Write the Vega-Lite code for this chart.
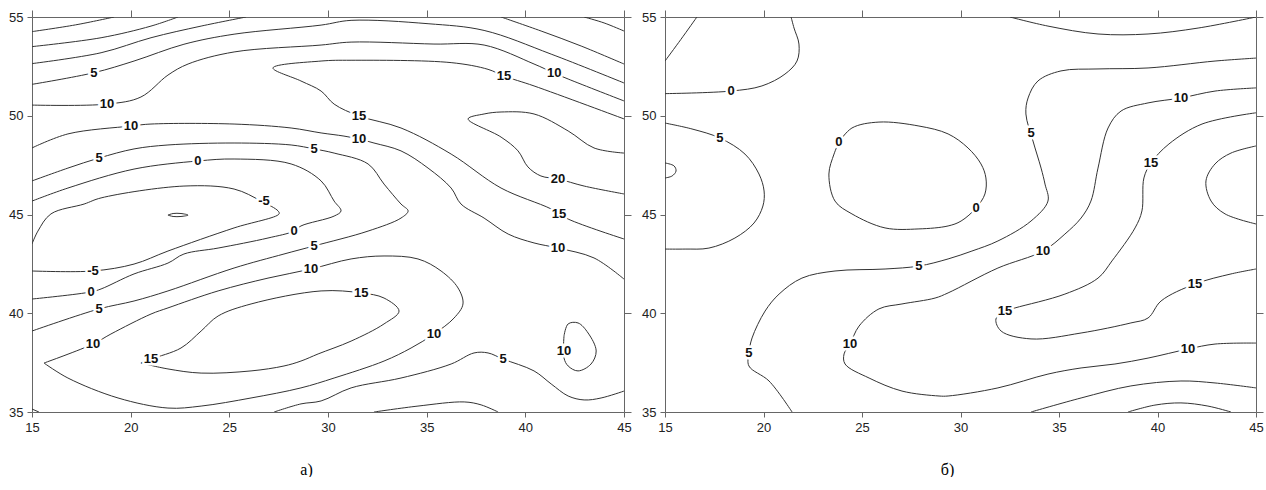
{
  "$schema": "https://vega.github.io/schema/vega-lite/v6.json",
  "padding": {"left": 8, "top": 9, "right": 0, "bottom": 0},
  "autosize": {"type": "pad"},
  "spacing": 9,
  "config": {
    "view": {"stroke": null},
    "font": "Liberation Sans",
    "axis": {"domainColor": "#666", "tickColor": "#666", "labelColor": "#222", "labelFont": "Liberation Sans", "labelFontSize": 13, "grid": false, "domainWidth": 1, "tickWidth": 1, "labelFlush": false, "labelOverlap": false}
  },
  "datasets": {
    "a": [
      {"c":"A1","o":1,"x":15,"y":54.26},{"c":"A1","o":2,"x":17.2,"y":54.6},{"c":"A1","o":3,"x":19.16,"y":55},
      {"c":"A2","o":1,"x":15,"y":53.5},{"c":"A2","o":2,"x":18.5,"y":53.95},{"c":"A2","o":3,"x":21.03,"y":54.54},{"c":"A2","o":4,"x":22.4,"y":55},
      {"c":"A3","o":1,"x":15,"y":52.64},{"c":"A3","o":2,"x":18.5,"y":53.19},{"c":"A3","o":3,"x":21.03,"y":53.95},{"c":"A3","o":4,"x":23.57,"y":54.54},{"c":"A3","o":5,"x":25.85,"y":55},
      {"c":"A4","o":1,"x":15,"y":51.59},{"c":"A4","o":2,"x":18.14,"y":52.18},{"c":"A4","o":3,"x":20.17,"y":52.77},{"c":"A4","o":4,"x":22.7,"y":53.62},{"c":"A4","o":5,"x":25.24,"y":54.13},{"c":"A4","o":6,"x":29.65,"y":54.59},{"c":"A4","o":7,"x":31.17,"y":54.83},{"c":"A4","o":8,"x":35.07,"y":54.66},{"c":"A4","o":9,"x":37.91,"y":54.32},{"c":"A4","o":10,"x":41.31,"y":53.12},{"c":"A4","o":11,"x":45,"y":51.66},
      {"c":"A5","o":1,"x":38.77,"y":55},{"c":"A5","o":2,"x":40.8,"y":54.29},{"c":"A5","o":3,"x":42.83,"y":53.53},{"c":"A5","o":4,"x":45,"y":52.62},
      {"c":"A6","o":1,"x":42.98,"y":55},{"c":"A6","o":2,"x":43.99,"y":54.7},{"c":"A6","o":3,"x":45,"y":54.29},
      {"c":"A7","o":1,"x":15,"y":50.54},{"c":"A7","o":2,"x":18.8,"y":50.59},{"c":"A7","o":3,"x":20.52,"y":50.95},{"c":"A7","o":4,"x":21.89,"y":52.06},{"c":"A7","o":5,"x":22.91,"y":52.62},{"c":"A7","o":6,"x":25.24,"y":53.23},{"c":"A7","o":7,"x":29.65,"y":53.58},{"c":"A7","o":8,"x":31.17,"y":53.73},{"c":"A7","o":9,"x":35.37,"y":53.63},{"c":"A7","o":10,"x":37.91,"y":53.58},{"c":"A7","o":11,"x":40.44,"y":52.62},{"c":"A7","o":12,"x":41.46,"y":52.16},{"c":"A7","o":13,"x":42.17,"y":51.86},{"c":"A7","o":14,"x":45,"y":50.75},
      {"c":"A8","o":1,"x":45,"y":49.84},{"c":"A8","o":2,"x":40.44,"y":51.51},{"c":"A8","o":3,"x":38.92,"y":52.01},{"c":"A8","o":4,"x":38.11,"y":52.35},{"c":"A8","o":5,"x":36.24,"y":52.69},{"c":"A8","o":6,"x":31.17,"y":52.81},{"c":"A8","o":7,"x":29.65,"y":52.77},{"c":"A8","o":8,"x":27.21,"y":52.42},{"c":"A8","o":9,"x":28.63,"y":51.76},{"c":"A8","o":10,"x":29.65,"y":51.25},{"c":"A8","o":11,"x":30.31,"y":50.59},{"c":"A8","o":12,"x":31.57,"y":49.99},{"c":"A8","o":13,"x":33.7,"y":49.38},{"c":"A8","o":14,"x":36.24,"y":48.06},{"c":"A8","o":15,"x":38.77,"y":46.34},{"c":"A8","o":16,"x":41.31,"y":45.28},{"c":"A8","o":17,"x":42.17,"y":44.77},{"c":"A8","o":18,"x":45,"y":43.76},
      {"c":"A9","o":1,"x":45,"y":48.11},{"c":"A9","o":2,"x":43.48,"y":48.37},{"c":"A9","o":3,"x":42.17,"y":49.23},{"c":"A9","o":4,"x":40.44,"y":50.09},{"c":"A9","o":5,"x":38.77,"y":50.19},{"c":"A9","o":6,"x":37.91,"y":50.09},{"c":"A9","o":7,"x":37.1,"y":49.84},{"c":"A9","o":8,"x":38.77,"y":48.92},{"c":"A9","o":9,"x":39.63,"y":48.22},{"c":"A9","o":10,"x":40.13,"y":47.41},{"c":"A9","o":11,"x":40.79,"y":46.95},{"c":"A9","o":12,"x":41.66,"y":46.8},{"c":"A9","o":13,"x":42.98,"y":46.44},{"c":"A9","o":14,"x":45,"y":46.04},
      {"c":"A10","o":1,"x":15,"y":48.37},{"c":"A10","o":2,"x":16.82,"y":49.08},{"c":"A10","o":3,"x":20.02,"y":49.48},{"c":"A10","o":4,"x":21.03,"y":49.58},{"c":"A10","o":5,"x":25.24,"y":49.58},{"c":"A10","o":6,"x":28.13,"y":49.38},{"c":"A10","o":7,"x":29.65,"y":49.13},{"c":"A10","o":8,"x":30.81,"y":48.97},{"c":"A10","o":9,"x":31.57,"y":48.82},{"c":"A10","o":10,"x":32.33,"y":48.62},{"c":"A10","o":11,"x":33.7,"y":48.22},{"c":"A10","o":12,"x":35.07,"y":47.35},{"c":"A10","o":13,"x":36.24,"y":46.34},{"c":"A10","o":14,"x":36.74,"y":45.53},{"c":"A10","o":15,"x":37.91,"y":44.82},{"c":"A10","o":16,"x":39.13,"y":44.01},{"c":"A10","o":17,"x":40.44,"y":43.56},{"c":"A10","o":18,"x":41.66,"y":43.3},{"c":"A10","o":19,"x":43.48,"y":42.8},{"c":"A10","o":20,"x":45,"y":41.73},
      {"c":"A11","o":1,"x":15,"y":46.7},{"c":"A11","o":2,"x":16.82,"y":47.35},{"c":"A11","o":3,"x":18.4,"y":47.86},{"c":"A11","o":4,"x":20.17,"y":48.32},{"c":"A11","o":5,"x":21.89,"y":48.52},{"c":"A11","o":6,"x":25.24,"y":48.62},{"c":"A11","o":7,"x":28.13,"y":48.52},{"c":"A11","o":8,"x":29.3,"y":48.32},{"c":"A11","o":9,"x":30.31,"y":48.11},{"c":"A11","o":10,"x":32.03,"y":47.56},{"c":"A11","o":11,"x":32.84,"y":46.54},{"c":"A11","o":12,"x":33.7,"y":45.53},{"c":"A11","o":13,"x":34.06,"y":45.18},{"c":"A11","o":14,"x":33.7,"y":44.82},{"c":"A11","o":15,"x":32.03,"y":44.16},{"c":"A11","o":16,"x":29.3,"y":43.41},{"c":"A11","o":17,"x":27.77,"y":43.0},{"c":"A11","o":18,"x":25.24,"y":42.29},{"c":"A11","o":19,"x":21.89,"y":41.13},{"c":"A11","o":20,"x":20.17,"y":40.62},{"c":"A11","o":21,"x":18.4,"y":40.22},{"c":"A11","o":22,"x":15,"y":39.1},
      {"c":"A12","o":1,"x":15,"y":45.68},{"c":"A12","o":2,"x":16.82,"y":46.34},{"c":"A12","o":3,"x":20.17,"y":47.3},{"c":"A12","o":4,"x":23.41,"y":47.71},{"c":"A12","o":5,"x":25.24,"y":47.81},{"c":"A12","o":6,"x":28.13,"y":47.56},{"c":"A12","o":7,"x":29.65,"y":46.7},{"c":"A12","o":8,"x":30.31,"y":45.68},{"c":"A12","o":9,"x":30.66,"y":45.18},{"c":"A12","o":10,"x":30.31,"y":44.92},{"c":"A12","o":11,"x":28.63,"y":44.42},{"c":"A12","o":12,"x":28.28,"y":44.16},{"c":"A12","o":13,"x":26.96,"y":43.81},{"c":"A12","o":14,"x":24.43,"y":43.3},{"c":"A12","o":15,"x":22.7,"y":43.0},{"c":"A12","o":16,"x":21.89,"y":42.54},{"c":"A12","o":17,"x":20.17,"y":41.99},{"c":"A12","o":18,"x":18.5,"y":41.23},{"c":"A12","o":19,"x":17.99,"y":41.08},{"c":"A12","o":20,"x":15,"y":40.72},
      {"c":"A13","o":1,"x":15,"y":43.51},{"c":"A13","o":2,"x":15.3,"y":44.16},{"c":"A13","o":3,"x":15.96,"y":45.03},{"c":"A13","o":4,"x":17.64,"y":45.53},{"c":"A13","o":5,"x":18.5,"y":45.84},{"c":"A13","o":6,"x":22.7,"y":46.44},{"c":"A13","o":7,"x":25.24,"y":46.29},{"c":"A13","o":8,"x":26.61,"y":45.68},{"c":"A13","o":9,"x":27.47,"y":45.18},{"c":"A13","o":10,"x":27.52,"y":45.03},{"c":"A13","o":11,"x":25.24,"y":44.32},{"c":"A13","o":12,"x":21.89,"y":43.15},{"c":"A13","o":13,"x":20.17,"y":42.49},{"c":"A13","o":14,"x":18.09,"y":42.14},{"c":"A13","o":15,"x":15,"y":42.14},
      {"c":"A14","o":1,"x":21.89,"y":44.97},{"c":"A14","o":2,"x":22.15,"y":45.05},{"c":"A14","o":3,"x":22.55,"y":45.05},{"c":"A14","o":4,"x":22.91,"y":44.97},{"c":"A14","o":5,"x":22.55,"y":44.9},{"c":"A14","o":6,"x":22.15,"y":44.9},{"c":"A14","o":7,"x":21.89,"y":44.97},
      {"c":"A15","o":1,"x":15.61,"y":37.48},{"c":"A15","o":2,"x":18.09,"y":38.44},{"c":"A15","o":3,"x":19.0,"y":38.95},{"c":"A15","o":4,"x":21.03,"y":39.96},{"c":"A15","o":5,"x":21.89,"y":40.27},{"c":"A15","o":6,"x":24.43,"y":41.13},{"c":"A15","o":7,"x":26.96,"y":41.78},{"c":"A15","o":8,"x":29.14,"y":42.24},{"c":"A15","o":9,"x":31.17,"y":42.75},{"c":"A15","o":10,"x":32.84,"y":42.9},{"c":"A15","o":11,"x":34.56,"y":42.75},{"c":"A15","o":12,"x":35.73,"y":42.14},{"c":"A15","o":13,"x":36.59,"y":41.28},{"c":"A15","o":14,"x":36.84,"y":40.47},{"c":"A15","o":15,"x":36.39,"y":39.76},{"c":"A15","o":16,"x":35.37,"y":38.95},{"c":"A15","o":17,"x":34.21,"y":38.24},{"c":"A15","o":18,"x":32.84,"y":37.58},{"c":"A15","o":19,"x":30.31,"y":36.72},{"c":"A15","o":20,"x":28.63,"y":36.22},{"c":"A15","o":21,"x":26.1,"y":35.71},{"c":"A15","o":22,"x":23.57,"y":35.3},{"c":"A15","o":23,"x":21.89,"y":35.2},{"c":"A15","o":24,"x":19.36,"y":35.71},{"c":"A15","o":25,"x":16.82,"y":36.72},{"c":"A15","o":26,"x":15.61,"y":37.48},
      {"c":"A16","o":1,"x":20.52,"y":37.48},{"c":"A16","o":2,"x":21.03,"y":37.68},{"c":"A16","o":3,"x":22.55,"y":38.24},{"c":"A16","o":4,"x":23.57,"y":39.1},{"c":"A16","o":5,"x":24.43,"y":39.86},{"c":"A16","o":6,"x":26.1,"y":40.47},{"c":"A16","o":7,"x":29.65,"y":41.13},{"c":"A16","o":8,"x":31.68,"y":41.03},{"c":"A16","o":9,"x":32.84,"y":40.77},{"c":"A16","o":10,"x":33.6,"y":40.11},{"c":"A16","o":11,"x":32.84,"y":39.46},{"c":"A16","o":12,"x":31.17,"y":38.59},{"c":"A16","o":13,"x":29.5,"y":37.94},{"c":"A16","o":14,"x":28.63,"y":37.58},{"c":"A16","o":15,"x":27.77,"y":37.33},{"c":"A16","o":16,"x":26.1,"y":37.08},{"c":"A16","o":17,"x":23.57,"y":36.97},{"c":"A16","o":18,"x":21.89,"y":37.18},{"c":"A16","o":19,"x":20.52,"y":37.48},
      {"c":"A17","o":1,"x":27.27,"y":35},{"c":"A17","o":2,"x":28.63,"y":35.41},{"c":"A17","o":3,"x":29.65,"y":35.56},{"c":"A17","o":4,"x":31.17,"y":36.22},{"c":"A17","o":5,"x":33.7,"y":36.72},{"c":"A17","o":6,"x":36.24,"y":37.43},{"c":"A17","o":7,"x":37.4,"y":37.99},{"c":"A17","o":8,"x":38.11,"y":37.99},{"c":"A17","o":9,"x":38.87,"y":37.68},{"c":"A17","o":10,"x":40.44,"y":37.08},{"c":"A17","o":11,"x":41.31,"y":36.42},{"c":"A17","o":12,"x":42.17,"y":35.81},{"c":"A17","o":13,"x":42.98,"y":35.61},{"c":"A17","o":14,"x":43.84,"y":35.71},{"c":"A17","o":15,"x":45,"y":36.06},
      {"c":"A18","o":1,"x":32.33,"y":35},{"c":"A18","o":2,"x":34.56,"y":35.3},{"c":"A18","o":3,"x":36.9,"y":35.51},{"c":"A18","o":4,"x":37.76,"y":35.36},{"c":"A18","o":5,"x":38.62,"y":35},
      {"c":"A19","o":1,"x":41.96,"y":38.85},{"c":"A19","o":2,"x":42.17,"y":39.46},{"c":"A19","o":3,"x":42.67,"y":39.51},{"c":"A19","o":4,"x":43.18,"y":39.0},{"c":"A19","o":5,"x":43.59,"y":38.09},{"c":"A19","o":6,"x":43.33,"y":37.43},{"c":"A19","o":7,"x":42.67,"y":37.08},{"c":"A19","o":8,"x":42.17,"y":37.33},{"c":"A19","o":9,"x":41.96,"y":37.73},{"c":"A19","o":10,"x":41.96,"y":38.85},
      {"c":"A20","o":1,"x":15,"y":35.15},{"c":"A20","o":2,"x":15.35,"y":35}
    ],
    "b": [
      {"c":"B1","o":1,"x":16.62,"y":55},{"c":"B1","o":2,"x":15.81,"y":53.87},{"c":"B1","o":3,"x":15,"y":52.77},
      {"c":"B2","o":1,"x":15,"y":51.12},{"c":"B2","o":2,"x":18.35,"y":51.25},{"c":"B2","o":3,"x":19.92,"y":51.51},{"c":"B2","o":4,"x":21.09,"y":52.11},{"c":"B2","o":5,"x":21.7,"y":52.77},{"c":"B2","o":6,"x":21.8,"y":53.63},{"c":"B2","o":7,"x":21.55,"y":54.44},{"c":"B2","o":8,"x":21.4,"y":55},
      {"c":"B3","o":1,"x":15,"y":49.63},{"c":"B3","o":2,"x":16.37,"y":49.33},{"c":"B3","o":3,"x":17.79,"y":48.87},{"c":"B3","o":4,"x":19.06,"y":48.06},{"c":"B3","o":5,"x":19.77,"y":47.05},{"c":"B3","o":6,"x":20.03,"y":46.19},{"c":"B3","o":7,"x":19.97,"y":45.43},{"c":"B3","o":8,"x":19.52,"y":44.57},{"c":"B3","o":9,"x":18.55,"y":43.81},{"c":"B3","o":10,"x":17.23,"y":43.3},{"c":"B3","o":11,"x":16.02,"y":43.25},{"c":"B3","o":12,"x":15,"y":43.25},
      {"c":"B4","o":1,"x":15,"y":47.61},{"c":"B4","o":2,"x":15.46,"y":47.46},{"c":"B4","o":3,"x":15.56,"y":47.2},{"c":"B4","o":4,"x":15.36,"y":46.95},{"c":"B4","o":5,"x":15,"y":46.85},
      {"c":"B5","o":1,"x":23.83,"y":48.67},{"c":"B5","o":2,"x":24.49,"y":49.38},{"c":"B5","o":3,"x":25.86,"y":49.68},{"c":"B5","o":4,"x":27.89,"y":49.48},{"c":"B5","o":5,"x":29.37,"y":49.08},{"c":"B5","o":6,"x":30.38,"y":48.37},{"c":"B5","o":7,"x":31.04,"y":47.56},{"c":"B5","o":8,"x":31.29,"y":46.85},{"c":"B5","o":9,"x":31.24,"y":46.04},{"c":"B5","o":10,"x":30.79,"y":45.33},{"c":"B5","o":11,"x":30.03,"y":44.67},{"c":"B5","o":12,"x":29.37,"y":44.42},{"c":"B5","o":13,"x":27.89,"y":44.27},{"c":"B5","o":14,"x":26.17,"y":44.32},{"c":"B5","o":15,"x":24.49,"y":45.03},{"c":"B5","o":16,"x":23.63,"y":45.68},{"c":"B5","o":17,"x":23.32,"y":47.05},{"c":"B5","o":18,"x":23.58,"y":48.06},{"c":"B5","o":19,"x":23.83,"y":48.67},
      {"c":"B6","o":1,"x":21.45,"y":35},{"c":"B6","o":2,"x":20.28,"y":36.57},{"c":"B6","o":3,"x":19.26,"y":37.33},{"c":"B6","o":4,"x":19.26,"y":37.99},{"c":"B6","o":5,"x":19.42,"y":38.75},{"c":"B6","o":6,"x":20.08,"y":40.11},{"c":"B6","o":7,"x":20.79,"y":40.97},{"c":"B6","o":8,"x":21.95,"y":41.78},{"c":"B6","o":9,"x":23.63,"y":42.14},{"c":"B6","o":10,"x":26.17,"y":42.24},{"c":"B6","o":11,"x":27.89,"y":42.39},{"c":"B6","o":12,"x":29.37,"y":42.75},{"c":"B6","o":13,"x":30.58,"y":43.15},{"c":"B6","o":14,"x":31.9,"y":43.66},{"c":"B6","o":15,"x":33.58,"y":44.67},{"c":"B6","o":16,"x":34.44,"y":45.68},{"c":"B6","o":17,"x":34.29,"y":46.54},{"c":"B6","o":18,"x":34.09,"y":47.35},{"c":"B6","o":19,"x":33.68,"y":48.72},{"c":"B6","o":20,"x":33.32,"y":50.09},{"c":"B6","o":21,"x":33.43,"y":50.9},{"c":"B6","o":22,"x":33.93,"y":51.76},{"c":"B6","o":23,"x":35.1,"y":52.27},{"c":"B6","o":24,"x":36.98,"y":52.37},{"c":"B6","o":25,"x":39.52,"y":52.42},{"c":"B6","o":26,"x":42.92,"y":52.77},{"c":"B6","o":27,"x":45,"y":52.92},
      {"c":"B7","o":1,"x":45,"y":51.41},{"c":"B7","o":2,"x":42.92,"y":51.25},{"c":"B7","o":3,"x":41.19,"y":50.9},{"c":"B7","o":4,"x":39.52,"y":50.65},{"c":"B7","o":5,"x":38.15,"y":50.24},{"c":"B7","o":6,"x":37.49,"y":49.38},{"c":"B7","o":7,"x":36.98,"y":47.35},{"c":"B7","o":8,"x":36.62,"y":45.68},{"c":"B7","o":9,"x":36.12,"y":44.82},{"c":"B7","o":10,"x":35.3,"y":44.01},{"c":"B7","o":11,"x":34.19,"y":43.15},{"c":"B7","o":12,"x":31.9,"y":42.29},{"c":"B7","o":13,"x":29.37,"y":41.03},{"c":"B7","o":14,"x":28.71,"y":40.77},{"c":"B7","o":15,"x":27.03,"y":40.47},{"c":"B7","o":16,"x":25.86,"y":40.22},{"c":"B7","o":17,"x":24.85,"y":39.35},{"c":"B7","o":18,"x":24.39,"y":38.44},{"c":"B7","o":19,"x":24.09,"y":37.94},{"c":"B7","o":20,"x":24.14,"y":37.43},{"c":"B7","o":21,"x":25.36,"y":36.72},{"c":"B7","o":22,"x":27.03,"y":36.06},{"c":"B7","o":23,"x":28.91,"y":35.81},{"c":"B7","o":24,"x":29.37,"y":35.81},{"c":"B7","o":25,"x":31.9,"y":36.22},{"c":"B7","o":26,"x":34.44,"y":36.92},{"c":"B7","o":27,"x":36.12,"y":37.23},{"c":"B7","o":28,"x":37.84,"y":37.43},{"c":"B7","o":29,"x":39.52,"y":37.73},{"c":"B7","o":30,"x":41.55,"y":38.19},{"c":"B7","o":31,"x":42.92,"y":38.44},{"c":"B7","o":32,"x":45,"y":38.49},
      {"c":"B8","o":1,"x":45,"y":50.15},{"c":"B8","o":2,"x":42.26,"y":49.58},{"c":"B8","o":3,"x":40.58,"y":48.57},{"c":"B8","o":4,"x":39.67,"y":47.61},{"c":"B8","o":5,"x":39.31,"y":46.85},{"c":"B8","o":6,"x":39.21,"y":45.18},{"c":"B8","o":7,"x":38.86,"y":44.32},{"c":"B8","o":8,"x":37.69,"y":42.65},{"c":"B8","o":9,"x":36.98,"y":41.78},{"c":"B8","o":10,"x":35.3,"y":40.97},{"c":"B8","o":11,"x":32.77,"y":40.27},{"c":"B8","o":12,"x":32.26,"y":40.11},{"c":"B8","o":13,"x":31.8,"y":39.71},{"c":"B8","o":14,"x":32.06,"y":39.1},{"c":"B8","o":15,"x":33.58,"y":38.7},{"c":"B8","o":16,"x":36.12,"y":39.0},{"c":"B8","o":17,"x":38.65,"y":39.51},{"c":"B8","o":18,"x":39.52,"y":39.76},{"c":"B8","o":19,"x":40.18,"y":40.62},{"c":"B8","o":20,"x":41.9,"y":41.48},{"c":"B8","o":21,"x":43.73,"y":41.99},{"c":"B8","o":22,"x":45,"y":42.24},
      {"c":"B9","o":1,"x":45,"y":48.47},{"c":"B9","o":2,"x":43.73,"y":48.11},{"c":"B9","o":3,"x":42.92,"y":47.56},{"c":"B9","o":4,"x":42.46,"y":46.7},{"c":"B9","o":5,"x":42.72,"y":45.68},{"c":"B9","o":6,"x":43.43,"y":45.03},{"c":"B9","o":7,"x":45,"y":44.52},
      {"c":"B10","o":1,"x":32.51,"y":55},{"c":"B10","o":2,"x":34.44,"y":54.54},{"c":"B10","o":3,"x":36.98,"y":54.14},{"c":"B10","o":4,"x":39.52,"y":54.14},{"c":"B10","o":5,"x":42.06,"y":54.44},{"c":"B10","o":6,"x":45,"y":55},
      {"c":"B12","o":1,"x":33.58,"y":35},{"c":"B12","o":2,"x":36.12,"y":35.71},{"c":"B12","o":3,"x":38.65,"y":36.32},{"c":"B12","o":4,"x":41.19,"y":36.57},{"c":"B12","o":5,"x":42.92,"y":36.47},{"c":"B12","o":6,"x":45,"y":36.22},
      {"c":"B13","o":1,"x":38.5,"y":35},{"c":"B13","o":2,"x":39.87,"y":35.35},{"c":"B13","o":3,"x":41.19,"y":35.46},{"c":"B13","o":4,"x":42.56,"y":35.3},{"c":"B13","o":5,"x":43.73,"y":35}
    ],
    "la": [
      {"t":"5","x":18.14,"y":52.16},{"t":"10","x":18.8,"y":50.59},{"t":"10","x":20.02,"y":49.48},{"t":"5","x":18.4,"y":47.86},{"t":"0","x":23.41,"y":47.71},{"t":"-5","x":26.76,"y":45.68},{"t":"15","x":31.57,"y":49.99},{"t":"10","x":31.57,"y":48.82},{"t":"5","x":29.29,"y":48.32},{"t":"15","x":38.92,"y":52.01},{"t":"10","x":41.46,"y":52.16},{"t":"20","x":41.66,"y":46.8},{"t":"15","x":41.71,"y":45.03},{"t":"10","x":41.66,"y":43.3},{"t":"-5","x":18.09,"y":42.14},{"t":"0","x":28.28,"y":44.16},{"t":"0","x":17.99,"y":41.08},{"t":"5","x":29.29,"y":43.41},{"t":"5","x":18.4,"y":40.22},{"t":"10","x":29.14,"y":42.24},{"t":"10","x":18.09,"y":38.44},{"t":"15","x":21.03,"y":37.68},{"t":"15","x":31.68,"y":41.03},{"t":"10","x":35.37,"y":38.95},{"t":"5","x":38.87,"y":37.68},{"t":"10","x":41.96,"y":38.09}
    ],
    "lb": [
      {"t":"0","x":18.35,"y":51.25},{"t":"5","x":17.79,"y":48.87},{"t":"0","x":23.83,"y":48.67},{"t":"0","x":30.79,"y":45.33},{"t":"5","x":27.89,"y":42.39},{"t":"5","x":19.26,"y":37.99},{"t":"10","x":24.39,"y":38.44},{"t":"5","x":33.58,"y":49.13},{"t":"10","x":41.19,"y":50.9},{"t":"15","x":39.67,"y":47.61},{"t":"10","x":34.19,"y":43.15},{"t":"15","x":32.26,"y":40.11},{"t":"15","x":41.9,"y":41.48},{"t":"10","x":41.55,"y":38.19}
    ]
  },
  "hconcat": [
    {
      "width": 592, "height": 395,
      "layer": [
        {
          "data": {"name": "a"},
          "mark": {"type": "line", "color": "#333", "strokeWidth": 1, "clip": true, "interpolate": "catmull-rom"},
          "encoding": {
            "x": {"field": "x", "type": "quantitative", "scale": {"domain": [15, 45], "nice": false, "zero": false},
                  "axis": {"orient": "bottom", "values": [15, 20, 25, 30, 35, 40, 45], "tickSize": 5, "labelPadding": 4, "title": "а)", "titleFont": "Liberation Serif", "titleFontSize": 16, "titleFontWeight": "normal", "titleColor": "#000", "titlePadding": 27, "titleX": 274}},
            "y": {"field": "y", "type": "quantitative", "scale": {"domain": [35, 55], "nice": false, "zero": false},
                  "axis": {"orient": "left", "values": [35, 40, 45, 50, 55], "tickSize": 5, "labelPadding": 4, "title": null, "minExtent": 24, "maxExtent": 24}},
            "detail": {"field": "c"},
            "order": {"field": "o", "type": "quantitative"}
          }
        },
        {
          "data": {"name": "la"},
          "mark": {"type": "text", "color": "white", "stroke": "white", "strokeWidth": 5, "font": "Liberation Sans", "fontSize": 13, "fontWeight": "bold"},
          "encoding": {
            "x": {"field": "x", "type": "quantitative", "axis": {"orient": "top", "values": [15, 20, 25, 30, 35, 40, 45], "labels": false, "tickSize": 7, "title": null, "minExtent": 7, "maxExtent": 7}},
            "y": {"field": "y", "type": "quantitative", "axis": {"orient": "right", "values": [35, 40, 45, 50, 55], "labels": false, "tickSize": 7, "title": null, "minExtent": 7, "maxExtent": 7}},
            "text": {"field": "t"}
          }
        },
        {
          "data": {"name": "la"},
          "mark": {"type": "text", "color": "#111", "font": "Liberation Sans", "fontSize": 13, "fontWeight": "bold"},
          "encoding": {
            "x": {"field": "x", "type": "quantitative", "axis": null},
            "y": {"field": "y", "type": "quantitative", "axis": null},
            "text": {"field": "t"}
          }
        }
      ],
      "resolve": {"axis": {"x": "independent", "y": "independent"}}
    },
    {
      "width": 591, "height": 395,
      "layer": [
        {
          "data": {"name": "b"},
          "mark": {"type": "line", "color": "#333", "strokeWidth": 1, "clip": true, "interpolate": "catmull-rom"},
          "encoding": {
            "x": {"field": "x", "type": "quantitative", "scale": {"domain": [15, 45], "nice": false, "zero": false},
                  "axis": {"orient": "bottom", "values": [15, 20, 25, 30, 35, 40, 45], "tickSize": 5, "labelPadding": 4, "title": "б)", "titleFont": "Liberation Serif", "titleFontSize": 16, "titleFontWeight": "normal", "titleColor": "#000", "titlePadding": 27, "titleX": 282}},
            "y": {"field": "y", "type": "quantitative", "scale": {"domain": [35, 55], "nice": false, "zero": false},
                  "axis": {"orient": "left", "values": [35, 40, 45, 50, 55], "tickSize": 5, "labelPadding": 4, "title": null, "minExtent": 24, "maxExtent": 24}},
            "detail": {"field": "c"},
            "order": {"field": "o", "type": "quantitative"}
          }
        },
        {
          "data": {"name": "lb"},
          "mark": {"type": "text", "color": "white", "stroke": "white", "strokeWidth": 5, "font": "Liberation Sans", "fontSize": 13, "fontWeight": "bold"},
          "encoding": {
            "x": {"field": "x", "type": "quantitative", "axis": {"orient": "top", "values": [15, 20, 25, 30, 35, 40, 45], "labels": false, "tickSize": 7, "title": null, "minExtent": 7, "maxExtent": 7}},
            "y": {"field": "y", "type": "quantitative", "axis": {"orient": "right", "values": [35, 40, 45, 50, 55], "labels": false, "tickSize": 7, "title": null, "minExtent": 7, "maxExtent": 7}},
            "text": {"field": "t"}
          }
        },
        {
          "data": {"name": "lb"},
          "mark": {"type": "text", "color": "#111", "font": "Liberation Sans", "fontSize": 13, "fontWeight": "bold"},
          "encoding": {
            "x": {"field": "x", "type": "quantitative", "axis": null},
            "y": {"field": "y", "type": "quantitative", "axis": null},
            "text": {"field": "t"}
          }
        }
      ],
      "resolve": {"axis": {"x": "independent", "y": "independent"}}
    }
  ]
}
